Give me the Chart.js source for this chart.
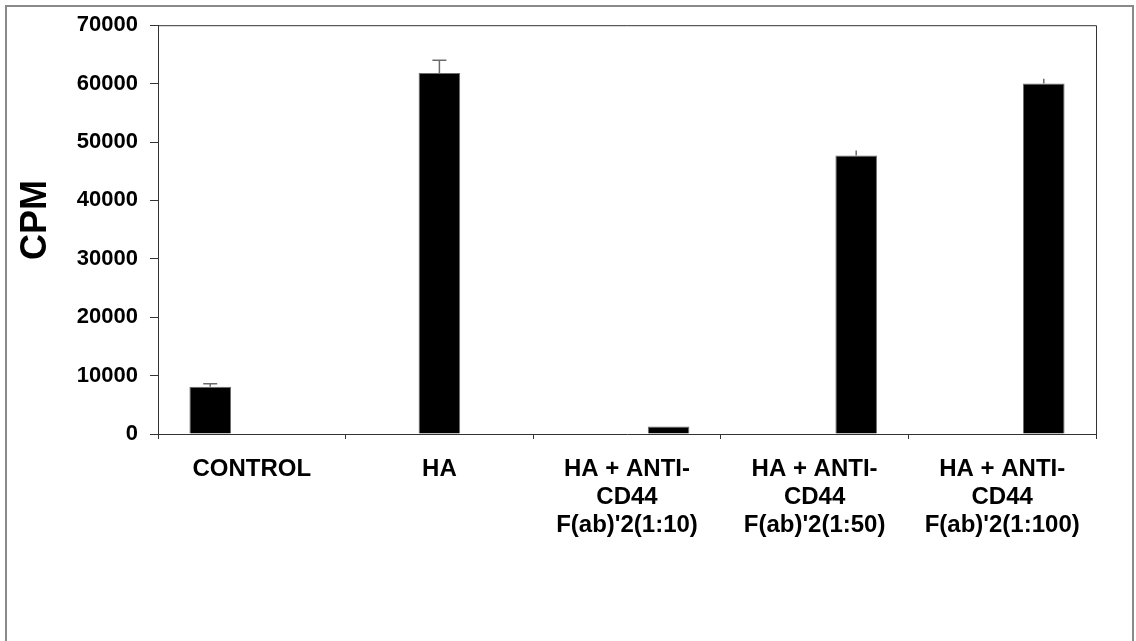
<!DOCTYPE html>
<html>
<head>
<meta charset="utf-8">
<script src="https://cdn.jsdelivr.net/npm/chart.js@4/dist/chart.umd.min.js"></script>
<style>
  html, body { margin: 0; padding: 0; background: #fff; }
  #wrap { width: 1136px; height: 641px; position: relative; }
</style>
</head>
<body>
<div id="wrap"><canvas id="c" width="1136" height="641"></canvas></div>
<script>
// Treatment groups along the x axis
const categories = [
  ['CONTROL'],
  ['HA'],
  ['HA + ANTI-', 'CD44', "F(ab)'2(1:10)"],
  ['HA + ANTI-', 'CD44', "F(ab)'2(1:50)"],
  ['HA + ANTI-', 'CD44', "F(ab)'2(1:100)"]
];

// Three bar slots per group (left, centre, right)
const leftValues   = [8100, null, null, null, null];
const centreValues = [null, 61800, null, null, null];
const rightValues  = [null, null, 1300, 47700, 60000];

// Upper error (SD) for each bar
const leftErrors   = [500, null, null, null, null];
const centreErrors = [null, 2200, null, null, null];
const rightErrors  = [null, null, null, 850, 850];

const yTicks = [0, 10000, 20000, 30000, 40000, 50000, 60000, 70000];
const yTitle = 'CPM';

// Draws the upward error whiskers, plot frame, y title and outer border
const decorations = {
  id: 'decorations',
  afterDatasetsDraw(chart) {
    const ctx = chart.ctx;
    const y = chart.scales.y;
    chart.data.datasets.forEach((ds, di) => {
      const meta = chart.getDatasetMeta(di);
      ds.errors.forEach((e, i) => {
        if (e == null || ds.data[i] == null) return;
        const bar = meta.data[i];
        const top = y.getPixelForValue(ds.data[i] + e);
        ctx.save();
        ctx.strokeStyle = '#6b6b6b';
        ctx.lineWidth = 1.5;
        ctx.beginPath();
        ctx.moveTo(bar.x, bar.y);
        ctx.lineTo(bar.x, top);
        const cw = ds.capWidth[i] || 0;
        if (cw) {
          ctx.moveTo(bar.x - cw / 2, top);
          ctx.lineTo(bar.x + cw / 2, top);
        }
        ctx.stroke();
        ctx.restore();
      });
    });
  },
  afterDraw(chart) {
    const ctx = chart.ctx;
    const a = chart.chartArea;
    ctx.save();
    // top and right edges of the plot frame
    ctx.strokeStyle = '#333';
    ctx.lineWidth = 1;
    ctx.beginPath();
    ctx.moveTo(a.left, a.top + 0.5);
    ctx.lineTo(a.right + 0.5, a.top + 0.5);
    ctx.lineTo(a.right + 0.5, a.bottom);
    ctx.stroke();
    // outer chart border
    ctx.strokeStyle = '#8a8a8a';
    ctx.lineWidth = 2;
    ctx.strokeRect(6, 6, 1127, 700);
    // rotated y-axis title
    ctx.translate(36, 220);
    ctx.rotate(-Math.PI / 2);
    ctx.fillStyle = '#000';
    ctx.font = 'bold 36px "Liberation Sans", Arial, sans-serif';
    ctx.textAlign = 'center';
    ctx.textBaseline = 'middle';
    ctx.fillText(yTitle, 0, 0);
    ctx.restore();
  }
};

const barStyle = {
  backgroundColor: '#000',
  borderColor: '#6e6e6e',
  borderWidth: 1,
  categoryPercentage: 0.665,
  barPercentage: 1.0
};

new Chart(document.getElementById('c'), {
  type: 'bar',
  data: {
    labels: categories,
    datasets: [
      Object.assign({ label: 'a', data: leftValues, errors: leftErrors, capWidth: [14, 0, 0, 0, 0] }, barStyle),
      Object.assign({ label: 'b', data: centreValues, errors: centreErrors, capWidth: [0, 14, 0, 0, 0] }, barStyle),
      Object.assign({ label: 'c', data: rightValues, errors: rightErrors, capWidth: [0, 0, 0, 0, 0] }, barStyle)
    ]
  },
  options: {
    responsive: false,
    animation: false,
    devicePixelRatio: 1,
    layout: { padding: { left: 0, right: 40, top: 24, bottom: 0 } },
    plugins: { legend: { display: false }, tooltip: { enabled: false } },
    scales: {
      x: {
        grid: { display: true, drawOnChartArea: false, offset: true, color: '#333', tickLength: 5 },
        border: { display: true, color: '#333', width: 1 },
        ticks: {
          color: '#000',
          font: { family: '"Liberation Sans", Arial, sans-serif', size: 24, weight: 'bold', lineHeight: 1.17 },
          padding: 16,
          maxRotation: 0,
          autoSkip: false
        },
        afterFit(s) { s.height = 641 - 434; }
      },
      y: {
        min: 0,
        max: 70000,
        afterBuildTicks(s) { s.ticks = yTicks.map(v => ({ value: v })); },
        grid: { display: true, drawOnChartArea: false, color: '#333', tickLength: 8 },
        border: { display: true, color: '#333', width: 1 },
        ticks: {
          color: '#000',
          font: { family: '"Liberation Sans", Arial, sans-serif', size: 22, weight: 'bold' },
          padding: 12,
          callback: v => String(v)
        },
        afterFit(s) { s.width = 158; }
      }
    }
  },
  plugins: [decorations]
});
</script>
</body>
</html>
